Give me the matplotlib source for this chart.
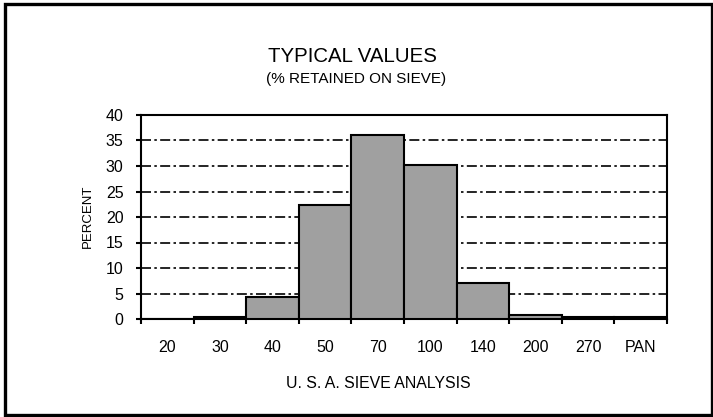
import matplotlib.pyplot as plt
import matplotlib.patches as mpatches
import matplotlib.transforms as mtransforms
import numpy as np

plt.rcParams['font.family'] = ['Liberation Sans', 'DejaVu Sans']

sieves = ["20", "30", "40", "50", "70", "100", "140", "200", "270", "PAN"]
percent = [0.0, 0.3, 4.3, 22.4, 36.1, 30.2, 7.1, 0.8, 0.35, 0.35]

W, H = 713, 417
fig = plt.figure(figsize=(W / 100, H / 100), dpi=100)
ax = fig.add_axes([141 / W, 1 - 319 / H, (667 - 141) / W, (319 - 115) / H])

x = np.arange(len(sieves))
ax.bar(x, percent, width=1.0, color="#a0a0a0", edgecolor="black", linewidth=1.5, zorder=3)

ax.set_xlim(-0.5, len(sieves) - 0.5)
ax.set_ylim(0, 40)
ax.set_yticks(np.arange(0, 41, 5))
ax.tick_params(axis="y", labelsize=11.5, length=3.6, width=1.5, direction="out", pad=9)
ax.set_xticks(np.arange(-0.5, len(sieves) - 0.4, 1.0))
ax.set_xticklabels([])
ax.tick_params(axis="x", length=3.6, width=1.5, direction="out")

# category labels sit in the middle of each bin
offset = mtransforms.ScaledTranslation(0, -33 / 100, fig.dpi_scale_trans)
for i, s in enumerate(sieves):
    ax.text(x[i], 0, s, ha="center", va="baseline", fontsize=11.5,
            transform=ax.get_xaxis_transform() + offset)

for y in range(5, 40, 5):
    ax.axhline(y, color="black", linewidth=1.2, linestyle=(0, (6, 2, 1.5, 2)), zorder=1)

for sp in ax.spines.values():
    sp.set_linewidth(1.5)

fig.text(88 / W, 1 - 216 / H, "PERCENT", rotation=90, ha="center", va="center", fontsize=9.5)
fig.text(378 / W, 1 - 388 / H, "U. S. A. SIEVE ANALYSIS", ha="center", va="baseline", fontsize=11.4)
fig.text(352 / W, 1 - 62 / H, "TYPICAL VALUES", ha="center", va="baseline", fontsize=14.7)
fig.text(356 / W, 1 - 82.5 / H, "(% RETAINED ON SIEVE)", ha="center", va="baseline", fontsize=11)

border = mpatches.Rectangle((5 / W, 2.5 / H), 706.5 / W, 411 / H, transform=fig.transFigure,
                            fill=False, edgecolor="black", linewidth=2.4)
fig.patches.append(border)

plt.savefig("out.png", dpi=100)
